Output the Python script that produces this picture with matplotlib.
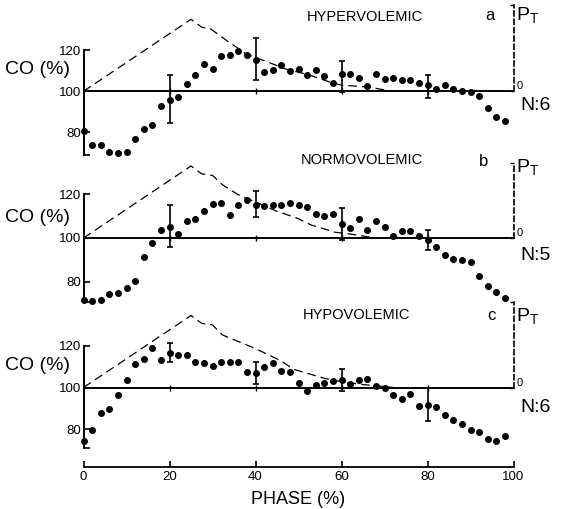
import matplotlib
matplotlib.use('Agg')
import matplotlib.pyplot as plt

plt.rcParams['font.family'] = ['Liberation Sans', 'DejaVu Sans']

# ---------------- data ----------------
phase = [0, 2, 4, 6, 8, 10, 12, 14, 16, 18, 20, 22, 24, 26, 28, 30, 32, 34, 36, 38,
         40, 42, 44, 46, 48, 50, 52, 54, 56, 58, 60, 62, 64, 66, 68, 70, 72, 74, 76, 78,
         80, 82, 84, 86, 88, 90, 92, 94, 96, 98]

co_hyper = [80.5, 73.8, 73.8, 70.4, 69.8, 70.6, 76.9, 81.5, 83.7, 93.0,
            95.9, 97.1, 103.7, 108.1, 113.5, 111.1, 117.1, 117.6, 119.8, 117.6,
            115.4, 109.3, 110.6, 112.8, 110.1, 110.8, 108.1, 110.6, 107.4, 104.2,
            108.2, 108.2, 106.3, 102.4, 108.3, 105.9, 106.6, 105.7, 105.4, 104.0,
            103.1, 101.3, 102.9, 101.3, 100.2, 99.7, 97.7, 92.0, 87.5, 85.5]

co_normo = [71.5, 71.0, 71.5, 74.5, 74.7, 76.9, 80.5, 91.1, 97.6, 103.7,
            105.2, 101.7, 107.8, 108.7, 112.4, 115.4, 116.0, 110.7, 115.1, 117.6,
            115.3, 114.5, 115.0, 115.3, 116.1, 115.3, 114.0, 111.0, 109.9, 111.1,
            106.4, 104.4, 108.7, 103.7, 107.6, 104.9, 101.1, 103.1, 103.1, 101.1,
            99.2, 95.7, 92.4, 90.4, 90.1, 89.2, 82.7, 78.2, 75.1, 72.4]

co_hypo = [74.4, 79.4, 87.9, 89.8, 96.2, 103.5, 111.4, 113.7, 119.0, 113.0,
           116.7, 115.4, 115.4, 112.2, 111.9, 110.2, 112.2, 112.2, 112.2, 107.5,
           107.1, 109.7, 111.7, 107.8, 107.5, 102.3, 98.4, 101.1, 102.4, 102.9,
           103.5, 101.9, 103.5, 104.3, 100.8, 99.7, 96.5, 94.6, 96.8, 91.0,
           91.7, 90.5, 86.8, 84.6, 82.5, 79.7, 78.7, 75.1, 74.4, 76.7]

# error bars (SE) at selected phases: lower / upper ends
eb_phase = [20, 40, 60, 80]
eb_hyper_lo = [84.6, 105.4, 99.7, 96.9]
eb_hyper_hi = [108.1, 126.0, 114.8, 107.8]
eb_normo_lo = [96.0, 109.5, 99.1, 94.7]
eb_normo_hi = [115.3, 121.7, 113.6, 103.7]
eb_hypo_lo = [112.5, 101.9, 98.4, 84.1]
eb_hypo_hi = [121.4, 112.5, 109.0, 100.0]

# transpulmonary pressure P_T (relative units, peak = 1)
pt_x_hyper = [0, 25, 27.5, 29.5, 32.7, 37.8, 44, 47, 52.3, 57.7, 60, 66.3, 71.7]
pt_hyper = [0, 1.0, 0.89, 0.87, 0.73, 0.52, 0.38, 0.31, 0.23, 0.12, 0.085, 0.06, 0.0]
pt_x_normo = [0, 25, 27.5, 30, 32.3, 36, 40, 45, 49.5, 53, 58.5, 62, 68]
pt_normo = [0, 1.0, 0.89, 0.87, 0.74, 0.6, 0.5, 0.37, 0.28, 0.18, 0.08, 0.055, 0.0]
pt_x_hypo = [0, 25, 27.5, 30, 32.3, 40, 45.6, 49, 56.2, 60, 65.1, 68.8, 72]
pt_hypo = [0, 1.0, 0.89, 0.87, 0.73, 0.54, 0.38, 0.25, 0.125, 0.08, 0.04, 0.02, 0.0]

titles = ['HYPERVOLEMIC', 'NORMOVOLEMIC', 'HYPOVOLEMIC']
letters = ['a', 'b', 'c']
n_labels = ['N:6', 'N:5', 'N:6']
co_ticks = [80, 100, 120]
x_ticks = [0, 20, 40, 60, 80, 100]

# ---------------- layout ----------------
W, H = 561, 509
X0, X1 = 83.5, 513.5
PT_PX = 72.0

fig = plt.figure(figsize=(W / 100, H / 100), dpi=100)

panels = [
    dict(y100=91.3, s=2.05, top=0, bot=160, lo=69.0, pttop=5, co=co_hyper,
         lo_e=eb_hyper_lo, hi_e=eb_hyper_hi, ptx=pt_x_hyper, pt=pt_hyper,
         title_y=17, letter_x=490, letter_y=16, pt_y=16, n_y=105, co_y=70),
    dict(y100=238.0, s=2.18, top=150, bot=305, lo=70.5, pttop=163, co=co_normo,
         lo_e=eb_normo_lo, hi_e=eb_normo_hi, ptx=pt_x_normo, pt=pt_normo,
         title_y=160, letter_x=484, letter_y=162, pt_y=168, n_y=256, co_y=217),
    dict(y100=387.5, s=2.08, top=295, bot=467, lo=71.0, pttop=302, co=co_hypo,
         lo_e=eb_hypo_lo, hi_e=eb_hypo_hi, ptx=pt_x_hypo, pt=pt_hypo,
         title_y=315, letter_x=491, letter_y=316, pt_y=317, n_y=408, co_y=365),
]

title_x = [365, 362, 356]


def fx(px):
    return px / W


def fy(py):
    return 1 - py / H


for i, p in enumerate(panels):
    ax = fig.add_axes([fx(X0), fy(p['bot']), (X1 - X0) / W, (p['bot'] - p['top']) / H])
    ax.patch.set_visible(False)
    ax.set_xlim(0, 100)
    ylo = 100 - (p['bot'] - p['y100']) / p['s']
    yhi = 100 + (p['y100'] - p['top']) / p['s']
    ax.set_ylim(ylo, yhi)

    for sp in ['top', 'right']:
        ax.spines[sp].set_visible(False)
    ax.spines['left'].set_bounds(p['lo'], 120)
    ax.spines['left'].set_linewidth(1.4)
    ax.set_yticks(co_ticks)
    ax.set_yticks([p['lo']], minor=True)
    ax.tick_params(axis='y', which='both', direction='in', length=4, width=1.2,
                   labelsize=9.5, pad=2)

    if i < 2:
        ax.spines['bottom'].set_visible(False)
        ax.set_xticks([])
    else:
        ax.spines['bottom'].set_bounds(0, 100)
        ax.spines['bottom'].set_linewidth(1.3)
        ax.set_xticks(x_ticks)
        ax.tick_params(axis='x', direction='in', length=4, width=1.2,
                       labelsize=9.5, pad=3)

    # reference line at 100 %
    ax.axhline(100, color='black', lw=1.4, zorder=2)
    ax.plot(eb_phase, [100] * len(eb_phase), '|', color='black', ms=4, mew=1.0)

    # P_T curve on twin axis
    tw = ax.twinx()
    tw.patch.set_visible(False)
    tw.set_ylim(-(p['bot'] - p['y100']) / PT_PX, (p['y100'] - p['top']) / PT_PX)
    for sp in ['top', 'left', 'bottom']:
        tw.spines[sp].set_visible(False)
    pt_top = (p['y100'] - p['pttop']) / PT_PX
    tw.spines['right'].set_bounds(0, pt_top)
    tw.spines['right'].set_linestyle((0, (3, 2)))
    tw.spines['right'].set_linewidth(1.2)
    tw.set_yticks([0, pt_top])
    tw.set_yticklabels(['0', ''])
    tw.tick_params(axis='y', direction='in', length=3, width=1.0, labelsize=8, pad=2)
    for lab in tw.get_yticklabels():
        lab.set_verticalalignment('bottom')
    tw.plot(p['ptx'], p['pt'], color='black', lw=0.9, dashes=(7, 4), clip_on=False)

    # CO data points
    ax.plot(phase, p['co'], 'o', color='black', ms=4.0, clip_on=False, zorder=4)

    # error bars
    centers = [p['co'][phase.index(x)] for x in eb_phase]
    yerr = [[c - l for c, l in zip(centers, p['lo_e'])],
            [h - c for c, h in zip(centers, p['hi_e'])]]
    ax.errorbar(eb_phase, centers, yerr=yerr, fmt='none', ecolor='black',
                elinewidth=1.2, capsize=2.2, capthick=1.2, zorder=3, clip_on=False)

    # texts
    fig.text(fx(title_x[i]), fy(p['title_y']), titles[i], ha='center', va='center',
             fontsize=10.5)
    fig.text(fx(p['letter_x']), fy(p['letter_y']), letters[i], ha='center',
             va='center', fontsize=12)
    fig.text(fx(516), fy(p['pt_y']), r'P$_\mathregular{T}$', ha='left', va='center',
             fontsize=14)
    fig.text(fx(520), fy(p['n_y']), n_labels[i], ha='left', va='center', fontsize=14)
    fig.text(fx(5), fy(p['co_y']), 'CO (%)', ha='left', va='center', fontsize=14)

fig.text(fx(298), fy(499), 'PHASE (%)', ha='center', va='center', fontsize=13)

fig.savefig('out.png', dpi=100)
